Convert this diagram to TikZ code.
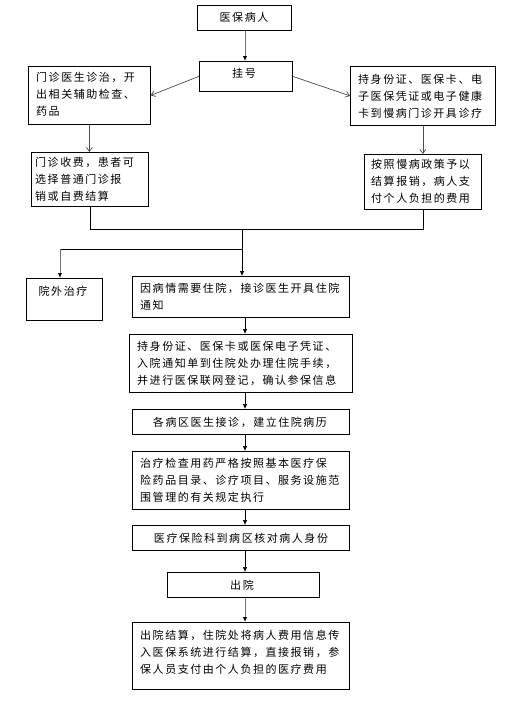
\documentclass[tikz,border=0pt]{standalone}
\usepackage{fontspec}
\newfontfamily\cjk[LetterSpace=14]{Noto Sans CJK SC}
\usetikzlibrary{arrows.meta}
\begin{document}
\begin{tikzpicture}[x=1pt,y=-1pt,
  box/.style={draw, line width=0.7pt, inner sep=0pt, anchor=north west},
  txt/.style={inner sep=0pt, align=left, anchor=north west, font=\cjk\fontsize{11}{17}\selectfont},
  ctxt/.style={inner sep=0pt, align=center, anchor=center, font=\cjk\fontsize{11}{17}\selectfont},
  arr/.style={line width=0.7pt, -{Latex[length=5pt,width=4.5pt]}},
  garr/.style={line width=1pt, draw=black!55, -{Latex[length=5pt,width=4.5pt,fill=black,color=black]}},
  varr/.style={line width=0.7pt, draw=black!70, -{Straight Barb[length=4pt,width=6pt]}},
  ln/.style={line width=0.7pt}]
\useasboundingbox (0,0) rectangle (532,715);
\fill[white] (0,0) rectangle (532,715);
% boxes
\node[box, minimum width=94pt, minimum height=25pt] (b1) at (197,5) {};
\node[box, minimum width=93pt, minimum height=30pt] (b2) at (199,61) {};
\node[box, minimum width=122pt, minimum height=58pt] (L1) at (28,66) {};
\node[box, minimum width=145pt, minimum height=59pt] (R1) at (350,66) {};
\node[box, minimum width=117pt, minimum height=54pt] (L2) at (31,152) {};
\node[box, minimum width=117pt, minimum height=55pt] (R2) at (364,154) {};
\node[box, minimum width=76pt, minimum height=42pt] (W) at (26,278) {};
\node[box, minimum width=217pt, minimum height=41pt] (H1) at (132,276) {};
\node[box, minimum width=223pt, minimum height=58pt] (H2) at (129,334) {};
\node[box, minimum width=217pt, minimum height=25pt] (H3) at (132,409) {};
\node[box, minimum width=217pt, minimum height=58pt] (H4) at (132,451) {};
\node[box, minimum width=217pt, minimum height=25pt] (H5) at (132,525) {};
\node[box, minimum width=152pt, minimum height=25pt] (H6) at (167,572) {};
\node[box, minimum width=217pt, minimum height=67pt] (H7) at (132,622) {};
% texts
\node[ctxt] (t1) at (244,17) {医保病人};
\node[ctxt] (t2) at (244,73) {挂号};
\node[txt] (tL1) at (36,72.5) {门诊医生诊治，开\\出相关辅助检查、\\药品};
\node[txt] (tR1) at (358,74.5) {持身份证、医保卡、电\\子医保凭证或电子健康\\卡到慢病门诊开具诊疗};
\node[txt] (tL2) at (35,157.5) {门诊收费，患者可\\选择普通门诊报\\销或自费结算};
\node[txt] (tR2) at (371,159.5) {按照慢病政策予以\\结算报销，病人支\\付个人负担的费用};
\node[ctxt] (tW) at (63,291) {院外治疗};
\node[txt] (tH1) at (140,282.5) {因病情需要住院，接诊医生开具住院\\通知};
\node[txt] (tH2) at (137,341.5) {持身份证、医保卡或医保电子凭证、\\入院通知单到住院处办理住院手续，\\并进行医保联网登记，确认参保信息};
\node[ctxt] (tH3) at (240,422) {各病区医生接诊，建立住院病历};
\node[txt] (tH4) at (140,457.5) {治疗检查用药严格按照基本医疗保\\险药品目录、诊疗项目、服务设施范\\围管理的有关规定执行};
\node[ctxt] (tH5) at (241,538) {医疗保险科到病区核对病人身份};
\node[ctxt] (tH6) at (242,585) {出院};
\node[txt] (tH7) at (140,629.5) {出院结算，住院处将病人费用信息传\\入医保系统进行结算，直接报销，参\\保人员支付由个人负担的医疗费用};
% helper coordinates
\coordinate (ax) at (245,0);
\coordinate (j) at (242,229);
\coordinate (k) at (242,249);
\coordinate (wx) at (60,0);
% connectors
\draw[garr] (b1.south -| ax) -- (b2.north -| ax);
\draw[varr] (b2.west) -- (L1.east);
\draw[varr] (b2.east) -- (R1.west);
\draw[varr] (L1.south) -- (L1.south |- L2.north);
\draw[varr] (R1.south) -- (R1.south |- R2.north);
\draw[ln] (L2.south) |- (j);
\draw[ln] (R2.south) |- (j);
\draw[arr] (j) -- (H1.north -| j);
\draw[ln] (k) -- (k -| wx);
\draw[garr] (k -| wx) -- (W.north -| wx);
\draw[arr] (H1.south -| ax) -- (H2.north -| ax);
\draw[arr] (H2.south -| ax) -- (H3.north -| ax);
\draw[arr] (H3.south -| ax) -- (H4.north -| ax);
\draw[arr] (H4.south -| ax) -- (H5.north -| ax);
\draw[arr] (H5.south -| ax) -- (H6.north -| ax);
\draw[garr] (H6.south -| ax) -- (H7.north -| ax);
\end{tikzpicture}
\end{document}
